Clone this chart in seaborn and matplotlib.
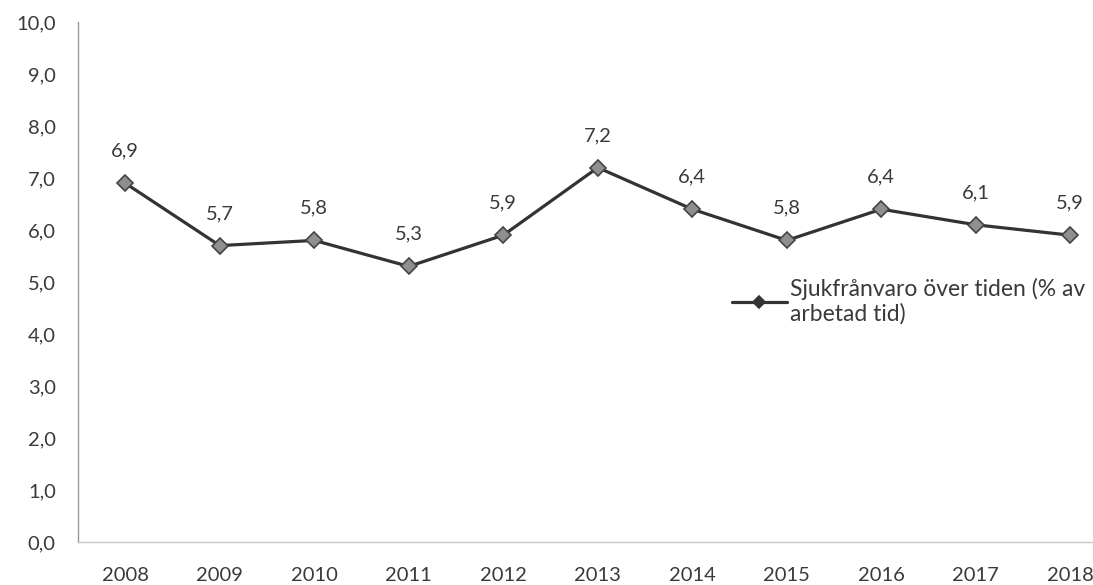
import pandas as pd
import numpy as np
import matplotlib.pyplot as plt
import seaborn as sns

years = ['2008', '2009', '2010', '2011', '2012', '2013', '2014', '2015', '2016', '2017', '2018']
sick_leave = [6.9, 5.7, 5.8, 5.3, 5.9, 7.2, 6.4, 5.8, 6.4, 6.1, 5.9]
series_name = 'Sjukfrånvaro över tiden (% av\narbetad tid)'

df = pd.DataFrame({'År': years, 'Värde': sick_leave})
df['pos'] = np.arange(len(years))

sns.set_style('white')
plt.rcParams['font.family'] = ['Lato', 'DejaVu Sans']
text_col = '#3a3a3a'

fig = plt.figure(figsize=(10.93, 5.85), dpi=100)
ax = fig.add_axes([78 / 1093, 43 / 585, 1 - 78 / 1093, (542 - 22) / 585])

sns.lineplot(data=df, x='pos', y='Värde', ax=ax, color='#333333', linewidth=2.3,
             marker='D', markersize=8, markerfacecolor='#8f8f8f',
             markeredgecolor='#444444', markeredgewidth=1.2, label=series_name)

# data labels above the points
for i, v in enumerate(sick_leave):
    ax.annotate(f'{v:.1f}'.replace('.', ','), (i, v), xytext=(0, 17),
                textcoords='offset points', ha='center', va='bottom',
                fontsize=14.5, color=text_col)

ax.set_xlim(-0.5, 10.24)
ax.set_ylim(0, 10)
ax.set_xticks(range(len(years)))
ax.set_xticklabels(years)
ax.set_yticks(np.arange(0, 11, 1))
ax.set_yticklabels([f'{t:.1f}'.replace('.', ',') for t in np.arange(0, 11, 1)])
ax.tick_params(axis='both', labelsize=14.5, colors=text_col, length=0)
ax.tick_params(axis='x', pad=18)
ax.tick_params(axis='y', pad=16)
ax.set_xlabel('')
ax.set_ylabel('')

for s in ['top', 'right']:
    ax.spines[s].set_visible(False)
ax.spines['left'].set_color('#9a9a9a')
ax.spines['left'].set_linewidth(1.0)
ax.spines['bottom'].set_color('#c8c8c8')
ax.spines['bottom'].set_linewidth(1.0)

leg = ax.legend(loc='upper left', bbox_to_anchor=(0.624, 0.548), frameon=False,
                fontsize=16.5, handlelength=2.4, handletextpad=0.12)
for t in leg.get_texts():
    t.set_color(text_col)
    t.set_linespacing(1.2)
for h in leg.legend_handles:
    h.set_markersize(6)
    h.set_markerfacecolor('#333333')
    h.set_markeredgecolor('#333333')

fig.savefig('out.png', dpi=100)
